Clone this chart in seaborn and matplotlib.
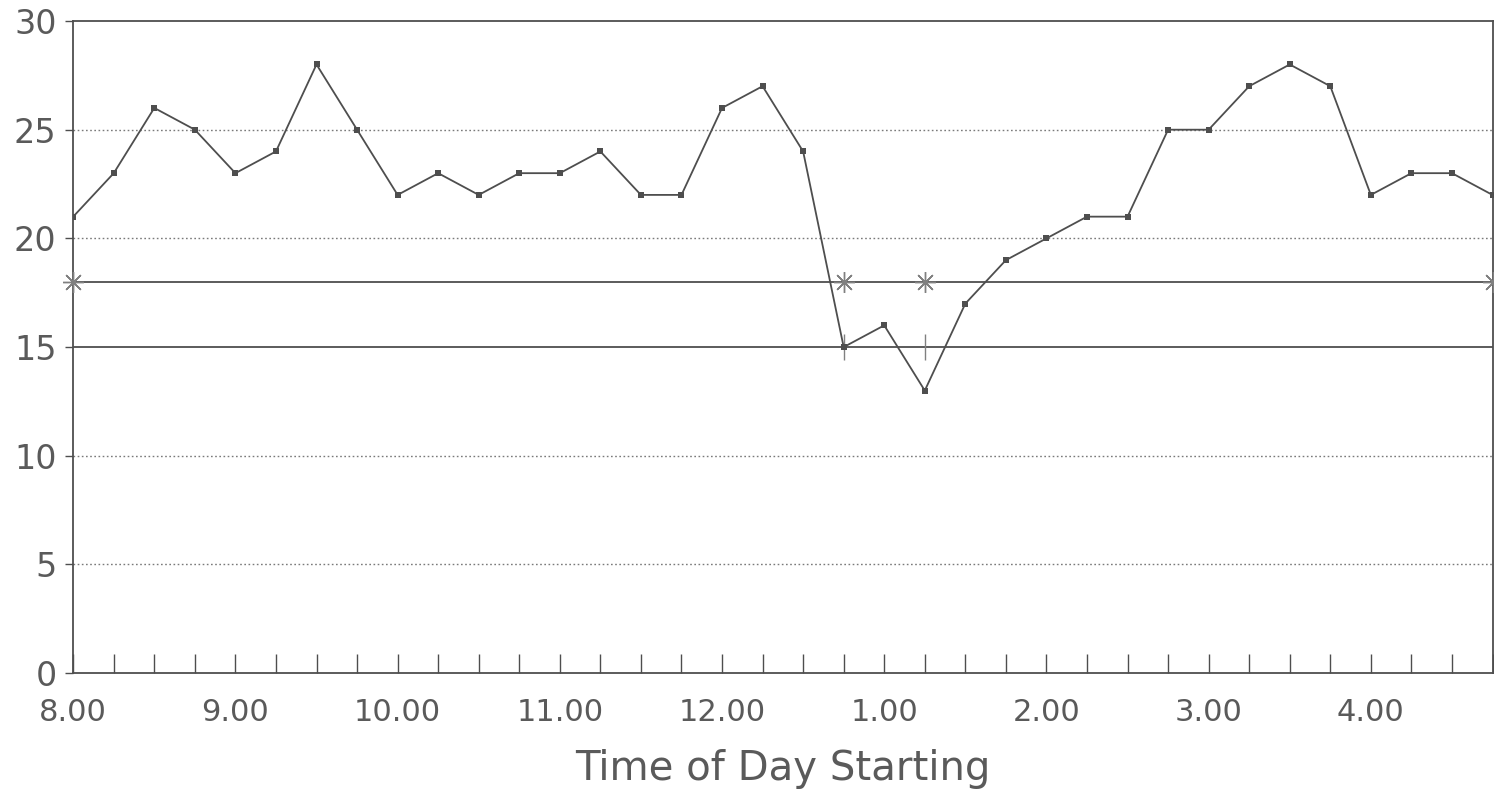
import numpy as np
import pandas as pd
import matplotlib
matplotlib.use("Agg")
import matplotlib.pyplot as plt
import seaborn as sns

# Quarter-hour readings from 8.00 to 4.45
values = [21, 23, 26, 25, 23, 24, 28, 25, 22, 23, 22, 23,
          23, 24, 22, 22, 26, 27, 24, 15, 16, 13, 17, 19,
          20, 21, 21, 25, 25, 27, 28, 27, 22, 23, 23, 22]
hour_labels = ["8.00", "9.00", "10.00", "11.00", "12.00",
               "1.00", "2.00", "3.00", "4.00"]
y_ticks = [0, 5, 10, 15, 20, 25, 30]
upper_limit = 18
lower_limit = 15
# quarter-hour slots where the limit lines carry markers
upper_marks = [0, 19, 21, 35]
lower_marks = [19, 21]

sns.set_theme(style="white")
plt.rcParams['font.family'] = ['DejaVu Sans']

ink = "#4e4e4e"
text_col = "#5a5a5a"

df = pd.DataFrame({"slot": np.arange(len(values)), "value": values})

fig = plt.figure(figsize=(14.94, 7.92), dpi=100)
ax = fig.add_axes([0.049, 0.150, 0.950, 0.8235])

# dotted horizontal guides
for y in [5, 10, 20, 25]:
    ax.axhline(y, color="#7a7a7a", lw=1.0, ls=(0, (1.2, 1.8)), zorder=1)

# limit lines
ax.axhline(upper_limit, color=ink, lw=1.3, zorder=2)
ax.axhline(lower_limit, color=ink, lw=1.3, zorder=2)
ax.plot(upper_marks, [upper_limit] * len(upper_marks), ls="none",
        marker=(8, 2, 0), ms=15, mew=1.0, color="#808080", zorder=3,
        clip_on=False)
ax.plot(lower_marks, [lower_limit] * len(lower_marks), ls="none",
        marker="|", ms=19, mew=1.0, color="#808080", zorder=3)

sns.lineplot(data=df, x="slot", y="value", ax=ax, color=ink, lw=1.3,
             marker="s", markersize=4.5, markeredgewidth=0,
             zorder=4)

ax.set_xlim(0, len(values) - 1)
ax.set_ylim(0, 30)

ax.set_xticks(np.arange(0, 33, 4))
ax.set_xticklabels(hour_labels)
ax.set_xticks(np.arange(0, len(values)), minor=True)
ax.tick_params(axis="x", which="both", direction="in", length=14,
               width=1.0, color=ink, top=False, bottom=True)
ax.tick_params(axis="x", which="major", labelsize=22, labelcolor=text_col,
               pad=18)

ax.set_yticks(y_ticks)
ax.tick_params(axis="y", direction="out", length=6, width=1.0, color=ink,
               left=True, labelsize=24, labelcolor=text_col, pad=6)

ax.set_xlabel("Time of Day Starting", fontsize=29, color=text_col,
              labelpad=16)
ax.set_ylabel("")

for side in ["left", "bottom", "top", "right"]:
    ax.spines[side].set_color(ink)
    ax.spines[side].set_linewidth(1.3)
    ax.spines[side].set_visible(True)

fig.savefig("out.png", dpi=100, facecolor="white")
